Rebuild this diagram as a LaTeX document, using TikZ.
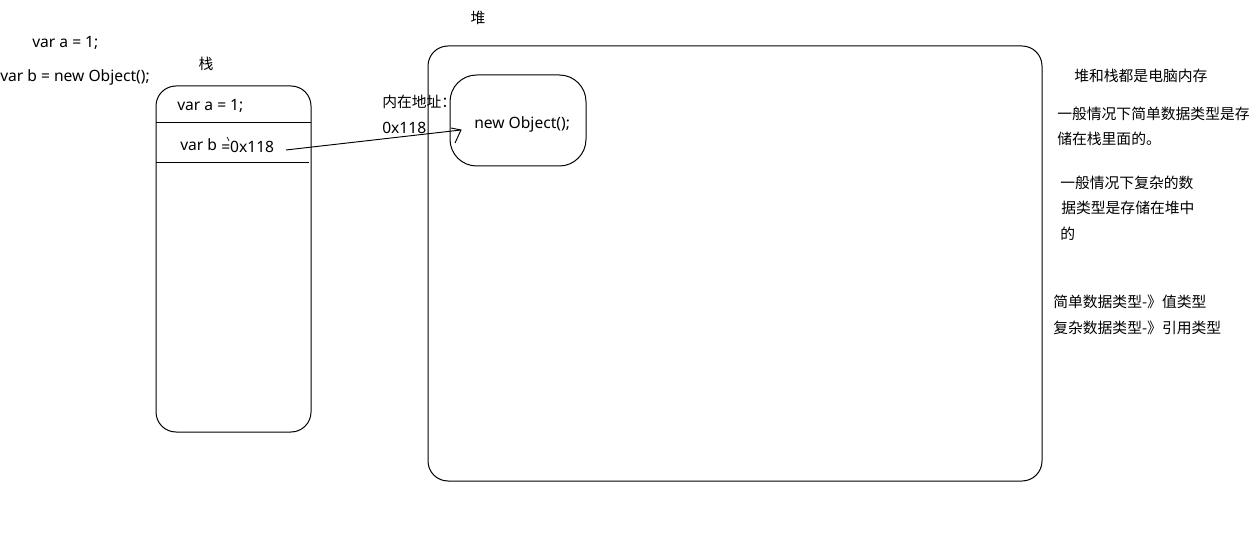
\documentclass[tikz,border=0pt]{standalone}
\usepackage{fontspec}
\setmainfont{Noto Sans}
\newfontfamily\cjk{Noto Sans CJK SC}
\usetikzlibrary{arrows.meta}
\begin{document}
\begin{tikzpicture}[x=0.75pt,y=-0.75pt,
  txt/.style={inner sep=0pt,anchor=west,font=\fontsize{11.7}{13}\selectfont},
  ctxt/.style={inner sep=0pt,font=\cjk\fontsize{11.1}{13}\selectfont},
  ztxt/.style={inner sep=0pt,anchor=west,font=\cjk\fontsize{11.1}{13}\selectfont},
  box/.style={draw,line width=0.75pt}]
\useasboundingbox (0,0) rectangle (1252,534);
% left code
\node[txt] (codea) at (32,43) {var a = 1;};
\node[txt] (codeb) at (0,77) {var b = new Object();};
% stack
\node[ctxt] (stacklbl) at (206,64) {栈};
\draw[box,rounded corners=15] (156,86) rectangle (311,432);
\draw[line width=0.75pt] (156,123) -- (311,123);
\draw[line width=0.75pt] (156,163) -- (309,163);
\node[txt] (sa) at (177,106) {var a = 1;};
\node[txt] (sb) at (180,145) {var b};
\node[txt] (sval) at (221,147) {=0x118};
\draw[line width=0.5pt] (227,137) -- (229,141);
% heap
\node[ctxt] (heaplbl) at (478,18) {堆};
\draw[box,rounded corners=15] (428,46) rectangle (1042,481);
\draw[box,rounded corners=20] (450,75) rectangle (586,166);
\node[txt] (obj) at (474,124) {new Object();};
\node[ztxt] (addr1) at (382,102) {内在地址：};
\node[txt] (addr2) at (382,128) {0x118};
\coordinate (from) at (286,150);
\coordinate (to) at (461,130);
\draw[line width=0.7pt] (from) -- (to);
\draw[line width=0.7pt] (451,128) -- (to) -- (455,143);
% notes
\node[ztxt] (n1) at (1074,76) {堆和栈都是电脑内存};
\node[ztxt] (n2) at (1057,114) {一般情况下简单数据类型是存};
\node[ztxt] (n3) at (1057,139) {储在栈里面的。};
\node[ztxt] (n4) at (1060,183) {一般情况下复杂的数};
\node[ztxt] (n5) at (1061,208) {据类型是存储在堆中};
\node[ztxt] (n6) at (1060,234) {的};
\node[ztxt] (n7) at (1053,302) {简单数据类型-》值类型};
\node[ztxt] (n8) at (1053,328) {复杂数据类型-》引用类型};
\end{tikzpicture}
\end{document}
